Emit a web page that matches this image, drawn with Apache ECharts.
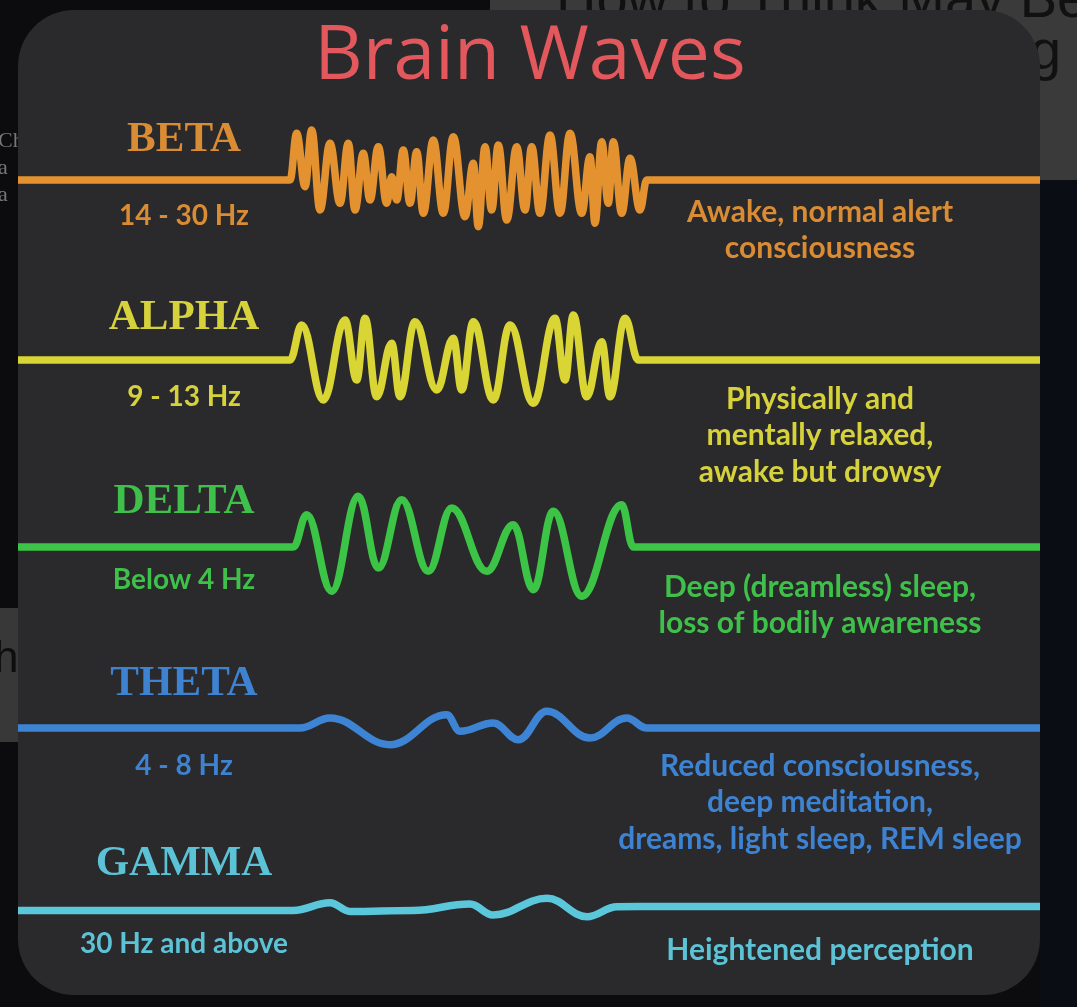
<!DOCTYPE html>
<html>
<head>
<meta charset="utf-8">
<script src="https://cdn.jsdelivr.net/npm/echarts@6/dist/echarts.min.js"></script>
<style>
html,body{margin:0;padding:0;background:#0d0d0f;}
#chart{width:1077px;height:1007px;}
</style>
</head>
<body>
<div id="chart"></div>
<script>
// ---------- DATA ----------
const chartTitle = 'Brain Waves';
const waveNames = ['BETA', 'ALPHA', 'DELTA', 'THETA', 'GAMMA'];
const bandLabels = ['14 - 30 Hz', '9 - 13 Hz', 'Below 4 Hz', '4 - 8 Hz', '30 Hz and above'];
const stateLines = [
  ['Awake, normal alert', 'consciousness'],
  ['Physically and', 'mentally relaxed,', 'awake but drowsy'],
  ['Deep (dreamless) sleep,', 'loss of bodily awareness'],
  ['Reduced consciousness,', 'deep meditation,', 'dreams, light sleep, REM sleep'],
  ['Heightened perception']
];
// wave traces: [time (arbitrary units), amplitude (arbitrary units, + = up)]
const betaWave = [[0,0],[27.2,0],[27.87,46.7],[28.7,-6.7],[29.37,50],[30.2,-30],[31.2,36.7],[32.2,-23.3],[33.03,36.7],[33.7,-30],[34.53,26.7],[35.2,-20],[36.03,33.3],[36.87,-23.3],[37.37,3.3],[37.87,-20],[38.53,30],[39.2,-23.3],[39.87,28.3],[40.53,-33.3],[41.53,40],[42.53,-33.3],[43.53,43.3],[44.7,-36.7],[45.53,16.7],[46.03,-46.7],[46.7,33.3],[47.37,-30],[48.03,35],[48.87,-40],[49.87,33.3],[50.7,-30],[51.37,33.3],[52.2,-33.3],[53.2,45],[54.2,-33.3],[55.2,46.7],[56.37,-33.3],[57.2,23.3],[57.7,-43.3],[58.37,38.3],[59.03,-23.3],[59.53,38.3],[60.37,-33.3],[61.2,21.7],[62.2,-30],[62.87,0],[102.2,0]];
const alphaWave = [[0,0],[27.2,0],[28.37,35],[30.53,-40],[32.7,40],[33.87,-20],[34.7,41.7],[35.87,-36.7],[37.37,16.7],[38.2,-36.7],[39.7,38.3],[41.87,-30],[43.53,21.7],[44.37,-30],[45.53,38.3],[47.53,-40],[49.2,35],[51.53,-43.3],[53.7,41.7],[54.7,-20],[55.53,45],[56.87,-36.7],[58.37,18.3],[59.2,-36.7],[60.7,41.7],[62.03,0],[102.2,0]];
const deltaWave = [[0,0],[27.53,0],[28.87,32.3],[31.37,-44.3],[34.03,50.7],[36.03,-21],[38.37,47.3],[41.03,-24.3],[43.37,39],[46.87,-24.3],[49.53,22.3],[51.53,-42.7],[53.53,35.7],[56.37,-49.3],[60.37,42.3],[61.53,0],[102.2,0]];
const thetaWave = [[0,0],[28.2,0],[31.2,10],[37.2,-16.7],[42.87,13.3],[44.2,-3.3],[47.53,5],[50.03,-11.7],[52.87,16.7],[57.2,-10],[60.87,10],[62.87,0],[102.2,0]];
const gammaWave = [[0,-1.5],[27.5,-1.5],[31.2,6.3],[33.2,-2.5],[39.5,-1.5],[45.2,5],[47.5,-6],[52.9,10.7],[56.9,-7.7],[59.9,2.3],[64,2.5],[102.2,2.5]];
const waves = [betaWave, alphaWave, deltaWave, thetaWave, gammaWave];

// ---------- STYLE / LAYOUT ----------
const waveColors = ['#e3922f', '#d8d534', '#3cc447', '#3d84d5', '#5ac7db'];
const textColors = ['#d98c34', '#d5d23c', '#3fc04a', '#3e82d2', '#5cc3d6'];
const baselineY = [180, 360, 547, 728, 909];
const nameY = [140, 318, 502, 684, 864];
const bandY = [216, 397, 580, 766, 944];
const descY = [212, 399, 587, 766, 950];
const W = 1077, H = 1007;
const cardL = 18, cardR = 1040, cardT = 10, cardB = 995;
const amp = 60;

const chart = echarts.init(document.getElementById('chart'), null, {renderer: 'canvas'});

const grids = [], xAxes = [], yAxes = [], series = [];
waves.forEach((w, i) => {
  grids.push({left: cardL, right: W - cardR, top: baselineY[i] - amp, height: amp * 2, containLabel: false});
  xAxes.push({type: 'value', gridIndex: i, min: 0, max: 102.2, show: false});
  yAxes.push({type: 'value', gridIndex: i, min: -amp, max: amp, show: false});
  series.push({
    type: 'line', name: waveNames[i], xAxisIndex: i, yAxisIndex: i,
    data: w, showSymbol: false, symbol: 'none',
    smooth: 0.4, smoothMonotone: 'x', clip: false,
    lineStyle: {color: waveColors[i], width: 7.5, cap: 'butt', join: 'round'},
    z: 5, silent: true, animation: false
  });
});

const graphics = [];
// background behind the card (surrounding screenshot)
graphics.push({type: 'rect', z: -20, shape: {x: 0, y: 0, width: W, height: H}, style: {fill: '#0c0c0e'}});
graphics.push({type: 'rect', z: -19, shape: {x: 490, y: 0, width: W - 490, height: 180}, style: {fill: '#3a3a3b'}});
graphics.push({type: 'rect', z: -19, shape: {x: 0, y: 608, width: 30, height: 134}, style: {fill: '#383839'}});
graphics.push({type: 'rect', z: -19, shape: {x: cardR, y: 180, width: W - cardR, height: H - 180}, style: {fill: '#0b0d14'}});
graphics.push({type: 'text', z: -18, style: {text: 'How to Think May Be', x: 556, y: 30, fill: '#111', font: '400 56px "Liberation Sans", Arial', textAlign: 'left', textVerticalAlign: 'bottom'}});
graphics.push({type: 'text', z: -18, style: {text: 'g', x: 1030, y: 82, fill: '#111', font: '400 56px "Liberation Sans", Arial', textAlign: 'left', textVerticalAlign: 'bottom'}});
graphics.push({type: 'text', z: -18, style: {text: 'Ch\na\na', x: -2, y: 128, fill: '#777', font: '400 22px "Liberation Serif"', lineHeight: 27, textAlign: 'left', textVerticalAlign: 'top'}});
graphics.push({type: 'text', z: -18, style: {text: 'h', x: -6, y: 660, fill: '#0e0e0e', font: '400 44px "Liberation Sans"', textAlign: 'left', textVerticalAlign: 'middle'}});
// card
graphics.push({type: 'rect', z: -10, shape: {x: cardL, y: cardT, width: cardR - cardL, height: cardB - cardT, r: 56}, style: {fill: '#2a292b'}});
// title
graphics.push({type: 'text', z: 10, style: {text: chartTitle, x: 530, y: 58, fill: '#e2585d', font: '500 75px "Open Sans", Lato, sans-serif', textAlign: 'center', textVerticalAlign: 'middle'}});
waveNames.forEach((n, i) => {
  graphics.push({type: 'text', z: 10, style: {text: n, x: 184, y: nameY[i], fill: textColors[i], font: '600 43px "Liberation Serif", serif', textAlign: 'center', textVerticalAlign: 'middle'}});
  graphics.push({type: 'text', z: 10, style: {text: bandLabels[i], x: 184, y: bandY[i], fill: textColors[i], font: '700 28px Lato, sans-serif', textAlign: 'center', textVerticalAlign: 'middle'}});
  stateLines[i].forEach((line, k) => {
    graphics.push({type: 'text', z: 10, style: {text: line, x: 820, y: descY[i] + k * 36.5, fill: textColors[i], font: '700 30px Lato, sans-serif', textAlign: 'center', textVerticalAlign: 'middle'}});
  });
});

chart.setOption({
  backgroundColor: '#0c0c0e',
  animation: false,
  grid: grids, xAxis: xAxes, yAxis: yAxes, series: series,
  graphic: {elements: graphics}
});
</script>
</body>
</html>
